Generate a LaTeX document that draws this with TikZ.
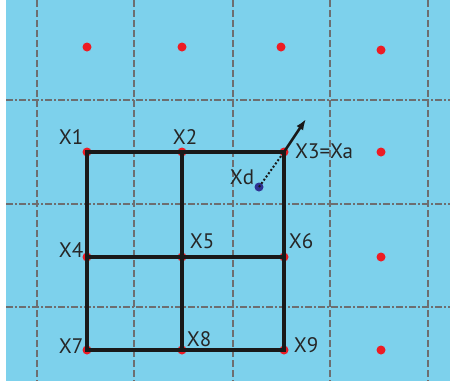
\documentclass[tikz,border=0pt]{standalone}
\usepackage{fontspec}
\setmainfont{PT Sans}
\usetikzlibrary{arrows.meta,positioning}
\definecolor{skyfill}{RGB}{125,209,236}
\definecolor{gridgray}{RGB}{109,110,112}
\definecolor{dotred}{RGB}{237,28,36}
\definecolor{dotblue}{RGB}{46,49,146}

\begin{document}
\begin{tikzpicture}[
   x=1pt,y=-1pt,
   vline/.style={draw=gridgray,line width=2.6pt,dash pattern=on 7pt off 3pt},
   hline/.style={draw=gridgray,line width=2.4pt,dash pattern=on 7pt off 2pt on 2pt off 2pt},
   pt/.style={circle,fill=dotred,inner sep=0pt,minimum size=9pt},
   lbl/.style={font=\fontsize{21}{21}\selectfont,text=black!85,inner sep=0pt},
   cell/.style={line width=3.8pt,draw=black!90},
   arr/.style={-{Latex[length=11pt,width=8pt]},line width=2.6pt,black!90}
 ]
  \useasboundingbox (0,0) rectangle (450,381);
  \fill[skyfill] (6,0) rectangle (450,381);
  % dashed grid
  \foreach \x in {37,134,233,330,428}
    \draw[vline] (\x,0) -- (\x,381);
  \foreach \y in {100,204,307}
    \draw[hline] (6,\y) -- (450,\y);
  % outer cell centres
  \foreach \x/\y [count=\i] in {87/47,182/47,281/47,381/50,381/152,381/257,381/350}
    \node[pt] (c\i) at (\x,\y) {};
  % stencil points
  \node[pt] (x1) at (87,152) {};
  \node[pt] (x2) at (182,152) {};
  \node[pt] (x3) at (284,152) {};
  \node[pt] (x4) at (87,257) {};
  \node[pt] (x5) at (182,257) {};
  \node[pt] (x6) at (284,257) {};
  \node[pt] (x7) at (87,350) {};
  \node[pt] (x8) at (182,350) {};
  \node[pt] (x9) at (284,350) {};
  \draw[cell] (x1.center) -- (x3.center) -- (x9.center) -- (x7.center) -- cycle;
  \draw[cell] (x4.center) -- (x6.center);
  \draw[cell] (x2.center) -- (x5.center) -- (x8.center);
  % departure point
  \node[circle,fill=dotblue,inner sep=0pt,minimum size=9pt] (xd) at (259,187) {};
  \coordinate (tip) at (306,119);
  \draw[dotted,line width=2pt,black!90] (xd.center) -- (x3.center);
  \draw[arr] (x3.center) -- (tip);
  % labels
  \node[lbl] (l1) at (71,137) {X1};
  \node[lbl] (l2) at (185,137) {X2};
  \node[lbl,anchor=west] (l3) at (295,151) {X3=Xa};
  \node[lbl] (ld) at (242,177) {Xd};
  \node[lbl] (l4) at (71,250) {X4};
  \node[lbl] (l5) at (202,241) {X5};
  \node[lbl] (l6) at (301,241) {X6};
  \node[lbl] (l7) at (71,346) {X7};
  \node[lbl] (l8) at (199,339) {X8};
  \node[lbl] (l9) at (306,345) {X9};
 \end{tikzpicture}
\end{document}
